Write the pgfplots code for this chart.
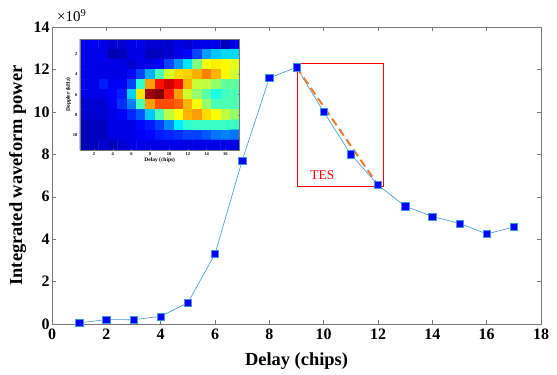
\documentclass[border=0pt]{standalone}
\usepackage{pgfplots}
\pgfplotsset{compat=1.18}
\usepackage{fontspec}
\setmainfont{Liberation Serif}
\definecolor{lineblue}{RGB}{60,150,220}
\definecolor{tesorange}{RGB}{237,125,49}
\definecolor{axgray}{RGB}{120,120,120}
\begin{document}
\begin{tikzpicture}
\begin{axis}[
  name=main,
  scale only axis,
  width=489bp, height=297bp,
  xmin=0, xmax=18, ymin=0, ymax=14,
  xtick={0,2,...,18}, ytick={0,2,...,14},
  tick align=inside,
  major tick length=4bp,
  axis line style={axgray},
  every tick/.style={axgray},
  xticklabel={\bfseries\pgfmathprintnumber[assume math mode=true]{\tick}},
  yticklabel={\bfseries\pgfmathprintnumber[assume math mode=true]{\tick}},
  tick label style={font=\bfseries\fontsize{16}{16}\selectfont, black},
  xticklabel style={yshift=-1bp},
  yticklabel style={xshift=1bp},
  xlabel={\bfseries Delay (chips)},
  ylabel={\bfseries Integrated waveform power},
  every axis x label/.style={at={(axis description cs:0.5,0)}, anchor=center, yshift=-37bp,
    font=\bfseries\fontsize{18.5}{18.5}\selectfont},
  every axis y label/.style={at={(axis description cs:-0.07,0.5)}, anchor=center, rotate=90,
    font=\bfseries\fontsize{18.5}{18.5}\selectfont},
  clip=false,
]
\addplot[lineblue, line width=0.6pt, mark=square*, mark size=3.6bp,
  mark options={fill=blue, draw=lineblue, line width=0.5pt}] coordinates {
  (1,0.05) (2,0.21) (3,0.2) (4,0.36) (5,1.0) (6,3.3) (7,7.7) (8,11.6)
  (9,12.1) (10,10.0) (11,8.0) (12,6.55) (13,5.55) (14,5.07) (15,4.74)
  (16,4.25) (17,4.57)};
\addplot[red, line width=0.8pt] coordinates {
  (9.04,12.3) (12.2,12.3) (12.2,6.5) (9.04,6.5) (9.04,12.3)};
\addplot[tesorange, line width=2pt, dash pattern=on 8bp off 4.5bp] coordinates {
  (9,12.1) (12,6.55)};
\node[red, font=\fontsize{13.5}{13.5}\selectfont] at (axis cs:9.95,7.0) {TES};
\node[anchor=south west, inner sep=0pt, font=\fontsize{15}{15}\selectfont]
  at (rel axis cs:0,1) [xshift=5bp, yshift=5bp] {×10\textsuperscript{9}};
\coordinate (insetSW) at (axis cs:1.03,8.2);
\coordinate (llc) at (rel axis cs:0,0);
\end{axis}
\begin{axis}[
  at={(insetSW)}, anchor=south west,
  scale only axis,
  width=159.5bp, height=111bp,
  xmin=0.5, xmax=17.5, ymin=0.5, ymax=11.5,
  y dir=reverse,
  enlargelimits=false,
  axis on top,
  xtick={2,4,...,16}, ytick={2,4,...,10},
  tick align=inside,
  major tick length=1.2bp,
  axis line style={axgray, line width=0.3pt},
  every tick/.style={axgray},
  xticklabel={\bfseries\pgfmathprintnumber[assume math mode=true]{\tick}},
  yticklabel={\bfseries\pgfmathprintnumber[assume math mode=true]{\tick}},
  tick label style={font=\bfseries\fontsize{4.5}{4.5}\selectfont, black},
  xticklabel style={yshift=1bp},
  yticklabel style={xshift=1bp},
  xlabel={\bfseries Delay (chips)},
  ylabel={\bfseries Doppler (kHz)},
  label style={font=\bfseries\fontsize{5.5}{5.5}\selectfont},
  xlabel style={yshift=5bp},
  ylabel style={yshift=-5bp},
  colormap/jet,
  point meta min=0, point meta max=1,
]
\addplot[matrix plot*, mesh/cols=17, point meta=explicit]
  table[meta=c, row sep=\\] {
x y c\\
1 1 .10\\ 2 1 .12\\ 3 1 .10\\ 4 1 .08\\ 5 1 .08\\ 6 1 .10\\ 7 1 .10\\ 8 1 .08\\ 9 1 .08\\ 10 1 .08\\ 11 1 .10\\ 12 1 .08\\ 13 1 .10\\ 14 1 .10\\ 15 1 .10\\ 16 1 .06\\ 17 1 .10\\
1 2 .10\\ 2 2 .10\\ 3 2 .10\\ 4 2 .05\\ 5 2 .06\\ 6 2 .10\\ 7 2 .10\\ 8 2 .06\\ 9 2 .06\\ 10 2 .08\\ 11 2 .10\\ 12 2 .13\\ 13 2 .19\\ 14 2 .28\\ 15 2 .32\\ 16 2 .34\\ 17 2 .34\\
1 3 .10\\ 2 3 .10\\ 3 3 .10\\ 4 3 .10\\ 5 3 .10\\ 6 3 .08\\ 7 3 .10\\ 8 3 .10\\ 9 3 .12\\ 10 3 .19\\ 11 3 .27\\ 12 3 .35\\ 13 3 .50\\ 14 3 .62\\ 15 3 .64\\ 16 3 .63\\ 17 3 .60\\
1 4 .10\\ 2 4 .10\\ 3 4 .10\\ 4 4 .10\\ 5 4 .10\\ 6 4 .13\\ 7 4 .19\\ 8 4 .30\\ 9 4 .45\\ 10 4 .58\\ 11 4 .66\\ 12 4 .67\\ 13 4 .70\\ 14 4 .75\\ 15 4 .70\\ 16 4 .63\\ 17 4 .58\\
1 5 .10\\ 2 5 .10\\ 3 5 .15\\ 4 5 .11\\ 5 5 .12\\ 6 5 .19\\ 7 5 .42\\ 8 5 .72\\ 9 5 .86\\ 10 5 .92\\ 11 5 .86\\ 12 5 .70\\ 13 5 .57\\ 14 5 .56\\ 15 5 .52\\ 16 5 .47\\ 17 5 .47\\
1 6 .10\\ 2 6 .10\\ 3 6 .10\\ 4 6 .12\\ 5 6 .15\\ 6 6 .33\\ 7 6 .65\\ 8 6 .97\\ 9 6 1.0\\ 10 6 .85\\ 11 6 .72\\ 12 6 .58\\ 13 6 .52\\ 14 6 .46\\ 15 6 .40\\ 16 6 .44\\ 17 6 .45\\
1 7 .08\\ 2 7 .08\\ 3 7 .08\\ 4 7 .12\\ 5 7 .17\\ 6 7 .25\\ 7 7 .45\\ 8 7 .72\\ 9 7 .80\\ 10 7 .80\\ 11 7 .78\\ 12 7 .70\\ 13 7 .62\\ 14 7 .52\\ 15 7 .45\\ 16 7 .45\\ 17 7 .45\\
1 8 .08\\ 2 8 .08\\ 3 8 .08\\ 4 8 .10\\ 5 8 .12\\ 6 8 .16\\ 7 8 .21\\ 8 8 .32\\ 9 8 .45\\ 10 8 .56\\ 11 8 .62\\ 12 8 .70\\ 13 8 .72\\ 14 8 .66\\ 15 8 .62\\ 16 8 .56\\ 17 8 .52\\
1 9 .06\\ 2 9 .06\\ 3 9 .06\\ 4 9 .10\\ 5 9 .10\\ 6 9 .10\\ 7 9 .13\\ 8 9 .15\\ 9 9 .19\\ 10 9 .26\\ 11 9 .36\\ 12 9 .42\\ 13 9 .43\\ 14 9 .43\\ 15 9 .43\\ 16 9 .43\\ 17 9 .43\\
1 10 .06\\ 2 10 .06\\ 3 10 .06\\ 4 10 .10\\ 5 10 .10\\ 6 10 .10\\ 7 10 .12\\ 8 10 .13\\ 9 10 .15\\ 10 10 .16\\ 11 10 .17\\ 12 10 .19\\ 13 10 .19\\ 14 10 .21\\ 15 10 .24\\ 16 10 .25\\ 17 10 .24\\
1 11 .06\\ 2 11 .06\\ 3 11 .08\\ 4 11 .06\\ 5 11 .08\\ 6 11 .10\\ 7 11 .10\\ 8 11 .10\\ 9 11 .10\\ 10 11 .10\\ 11 11 .10\\ 12 11 .10\\ 13 11 .10\\ 14 11 .10\\ 15 11 .10\\ 16 11 .10\\ 17 11 .10\\
};
\end{axis}
\pgfresetboundingbox
\path[use as bounding box] (llc) ++(-52bp,-51bp) rectangle ++(557bp,375bp);
\end{tikzpicture}
\end{document}
